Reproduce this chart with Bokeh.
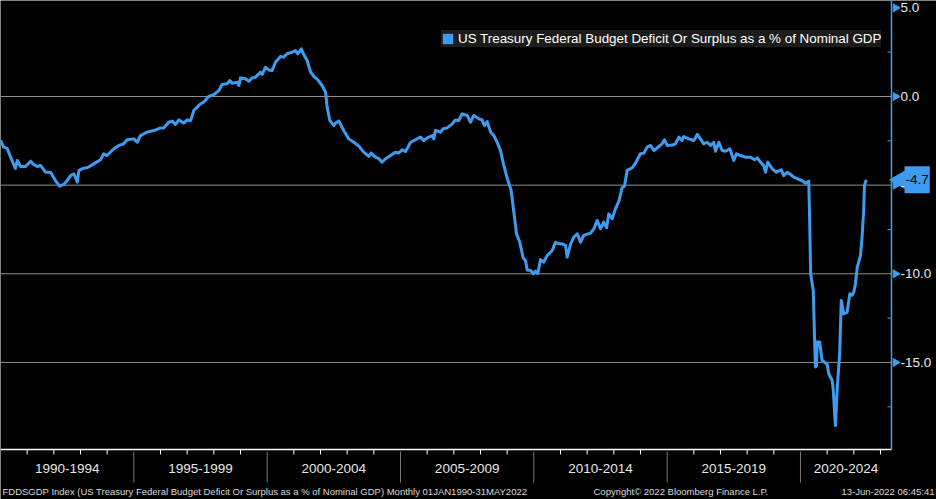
import math
from bokeh.plotting import figure
from bokeh.models import Label, Legend, LegendItem, Range1d
from bokeh.embed import file_html
from bokeh.resources import INLINE

# ---------------- data ----------------
years = [
    1990.00, 1990.12, 1990.25, 1990.38, 1990.56, 1990.63, 1990.75, 1990.94,
    1991.13, 1991.24, 1991.38, 1991.50, 1991.69, 1991.88, 1992.06, 1992.22,
    1992.37, 1992.50, 1992.63, 1992.75, 1992.81, 1992.88, 1992.94, 1993.12,
    1993.25, 1993.50, 1993.75, 1993.87, 1994.00, 1994.25, 1994.44, 1994.62,
    1994.75, 1995.00, 1995.13, 1995.25, 1995.50, 1995.75, 1996.00, 1996.12,
    1996.31, 1996.44, 1996.56, 1996.69, 1996.87, 1997.00, 1997.13, 1997.25,
    1997.38, 1997.50, 1997.62, 1997.81, 1998.00, 1998.19, 1998.31, 1998.50,
    1998.60, 1998.69, 1998.88, 1998.94, 1999.00, 1999.19, 1999.31, 1999.44,
    1999.56, 1999.75, 1999.81, 1999.94, 2000.06, 2000.19, 2000.31, 2000.50,
    2000.62, 2000.75, 2000.94, 2001.06, 2001.15, 2001.28, 2001.37, 2001.50,
    2001.63, 2001.75, 2001.90, 2002.06, 2002.19, 2002.25, 2002.35, 2002.50,
    2002.56, 2002.69, 2002.87, 2003.06, 2003.25, 2003.44, 2003.62, 2003.81,
    2003.90, 2004.06, 2004.19, 2004.31, 2004.44, 2004.63, 2004.81, 2004.94,
    2005.06, 2005.19, 2005.38, 2005.56, 2005.75, 2005.87, 2006.06, 2006.19,
    2006.25, 2006.31, 2006.50, 2006.60, 2006.75, 2006.94, 2007.06, 2007.19,
    2007.31, 2007.50, 2007.63, 2007.75, 2007.94, 2008.06, 2008.15, 2008.25,
    2008.38, 2008.50, 2008.63, 2008.75, 2008.87, 2009.00, 2009.15, 2009.25,
    2009.35, 2009.47, 2009.60, 2009.69, 2009.75, 2009.88, 2009.98, 2010.06,
    2010.15, 2010.25, 2010.37, 2010.50, 2010.69, 2010.81, 2010.94, 2011.06,
    2011.19, 2011.25, 2011.38, 2011.50, 2011.63, 2011.75, 2011.87, 2012.00,
    2012.13, 2012.25, 2012.38, 2012.50, 2012.62, 2012.73, 2012.81, 2012.94,
    2013.06, 2013.19, 2013.31, 2013.40, 2013.50, 2013.69, 2013.81, 2014.00,
    2014.12, 2014.25, 2014.38, 2014.50, 2014.69, 2014.81, 2014.90, 2015.00,
    2015.19, 2015.31, 2015.44, 2015.56, 2015.62, 2015.81, 2016.00, 2016.13,
    2016.25, 2016.37, 2016.50, 2016.63, 2016.75, 2016.81, 2016.94, 2017.06,
    2017.19, 2017.35, 2017.50, 2017.60, 2017.75, 2017.94, 2018.13, 2018.28,
    2018.38, 2018.50, 2018.62, 2018.69, 2018.77, 2018.94, 2019.10, 2019.28,
    2019.37, 2019.50, 2019.63, 2019.75, 2019.94, 2020.06, 2020.19, 2020.31,
    2020.35, 2020.38, 2020.48, 2020.53, 2020.56, 2020.60, 2020.63, 2020.72,
    2020.81, 2020.90, 2021.00, 2021.06, 2021.19, 2021.23, 2021.31, 2021.38,
    2021.47, 2021.53, 2021.62, 2021.75, 2021.85, 2021.94, 2022.00, 2022.06,
    2022.13, 2022.25, 2022.31, 2022.37, 2022.40, 2022.47,
]
values = [
    -2.48, -2.86, -2.93, -3.42, -4.06, -3.61, -3.95, -3.95,
    -3.65, -3.83, -3.95, -3.89, -4.27, -4.27, -4.74, -5.06,
    -4.96, -4.74, -4.46, -4.36, -4.55, -4.83, -4.17, -4.04,
    -4.02, -3.80, -3.57, -3.23, -3.33, -2.95, -2.76, -2.67,
    -2.44, -2.39, -2.58, -2.20, -2.01, -1.92, -1.77, -1.77,
    -1.45, -1.39, -1.58, -1.32, -1.50, -1.32, -1.35, -0.79,
    -0.60, -0.41, -0.32, 0.00, 0.11, 0.34, 0.68, 0.72,
    0.90, 0.75, 0.81, 0.62, 1.05, 1.00, 0.86, 1.05,
    1.09, 1.37, 1.24, 1.65, 1.50, 1.47, 1.93, 2.26,
    2.22, 2.41, 2.50, 2.59, 2.41, 2.69, 2.37, 2.03,
    1.37, 1.13, 0.94, 0.62, 0.24, -0.60, -1.35, -1.64,
    -1.50, -1.39, -1.92, -2.39, -2.58, -2.80, -3.14, -3.38,
    -3.19, -3.42, -3.51, -3.70, -3.51, -3.33, -3.14, -3.19,
    -3.00, -3.10, -2.58, -2.44, -2.29, -2.48, -2.29, -2.20,
    -2.39, -1.92, -2.01, -1.82, -1.77, -1.54, -1.32, -1.35,
    -0.98, -1.07, -1.45, -1.07, -1.26, -1.32, -1.64, -1.41,
    -2.01, -2.20, -2.60, -3.05, -3.85, -4.60, -5.30, -6.50,
    -7.74, -8.20, -9.10, -9.25, -9.78, -9.81, -10.00, -9.85,
    -9.98, -9.20, -9.34, -8.97, -8.69, -8.22, -8.31, -8.31,
    -8.40, -9.06, -8.31, -7.93, -7.74, -8.22, -7.84, -7.76,
    -7.71, -7.46, -6.99, -7.46, -7.08, -7.40, -6.62, -6.90,
    -6.34, -5.90, -5.15, -5.05, -4.17, -4.02, -3.76, -3.23,
    -3.20, -2.86, -2.76, -3.05, -2.82, -2.67, -2.44, -2.76,
    -2.74, -2.67, -2.29, -2.48, -2.26, -2.39, -2.48, -2.14,
    -2.39, -2.67, -2.58, -2.76, -2.58, -3.09, -2.58, -3.05,
    -3.09, -2.95, -3.61, -3.23, -3.33, -3.42, -3.42, -3.57,
    -3.46, -3.70, -3.89, -4.27, -3.70, -4.08, -4.27, -4.13,
    -4.46, -4.27, -4.40, -4.55, -4.68, -4.74, -4.90, -4.77,
    -7.40, -10.00, -10.94, -13.76, -15.26, -15.20, -13.85, -13.85,
    -14.89, -14.98, -15.10, -15.64, -16.02, -16.58, -18.56, -16.40,
    -14.50, -11.50, -12.26, -12.16, -11.13, -11.20, -11.03, -10.56,
    -9.62, -8.97, -7.93, -6.43, -5.00, -4.70,
]
period_starts = [1990, 1995, 2000, 2005, 2010, 2015, 2020]
period_labels = ["1990-1994", "1995-1999", "2000-2004", "2005-2009",
                 "2010-2014", "2015-2019", "2020-2024"]
year_ticks = [y for y in range(1991, 2024) if y % 5]
y_ticks = [5.0, 0.0, -5.0, -10.0, -15.0]
y_minor = [2.5, -2.5, -7.5, -12.5, -17.5]
grid_ticks = [0.0, -5.0, -10.0, -15.0]
series_name = "US Treasury Federal Budget Deficit Or Surplus as a % of Nominal GDP"
footer_left = ("FDDSGDP Index (US Treasury Federal Budget Deficit Or Surplus as a % of "
               "Nominal GDP)  Monthly 01JAN1990-31MAY2022")
footer_mid = "Copyright\u00a9 2022 Bloomberg Finance L.P."
footer_right = "13-Jun-2022 06:45:41"

# ---------------- layout / styling ----------------
BLUE = "#3d9cf0"
FONT = "Liberation Sans"
W, H = 936, 499
PXX = 5 / 133.33          # years per pixel
PXY = 5 / 88.65           # value units per pixel
X0, X1 = 1990.0, 1990.0 + W * PXX
Y1 = 96 * PXY
Y0 = Y1 - H * PXY
AXIS_X = X0 + 891 * PXX    # right value axis position
AXIS_Y = Y1 - 449 * PXY    # bottom time axis position

p = figure(width=W, height=H, output_backend="svg", toolbar_location=None,
           x_range=Range1d(X0, X1), y_range=Range1d(Y0, Y1),
           x_axis_location=None, y_axis_location=None,
           min_border=0, background_fill_color="black",
           border_fill_color="black", outline_line_color=None)
p.grid.visible = False

# horizontal grid lines up to the value axis
p.segment(x0=[X0] * len(grid_ticks), x1=[AXIS_X] * len(grid_ticks),
          y0=grid_ticks, y1=grid_ticks, line_color="#8f8f8f", line_width=1)

# series
p.line(years, values, line_color=BLUE, line_width=3, line_join="round")

# bottom time axis
p.segment(x0=[X0], x1=[AXIS_X], y0=[AXIS_Y], y1=[AXIS_Y],
          line_color="white", line_width=1.5)
p.segment(x0=year_ticks, x1=year_ticks, y0=[AXIS_Y] * len(year_ticks),
          y1=[AXIS_Y - 5 * PXY] * len(year_ticks), line_color="white", line_width=1)
seps = period_starts[1:]
p.segment(x0=seps, x1=seps, y0=[AXIS_Y - 2 * PXY] * len(seps),
          y1=[AXIS_Y - 33 * PXY] * len(seps), line_color="#7a7a7a", line_width=1)
for s, lab in zip(period_starts, period_labels):
    mid = (s + min(s + 5, AXIS_X)) / 2
    p.add_layout(Label(x=mid, y=H - 468, x_units="data", y_units="screen",
                       text=lab, text_align="center", text_baseline="middle",
                       text_color="#e6e6e6", text_font=FONT, text_font_size="13.5px"))

# right value axis
p.segment(x0=[AXIS_X], x1=[AXIS_X], y0=[AXIS_Y], y1=[Y1],
          line_color=BLUE, line_width=1.5)
p.scatter(x=[AXIS_X + 4 * PXX] * len(y_ticks), y=y_ticks, marker="triangle",
          size=8, angle=-math.pi / 2, fill_color=BLUE, line_color=BLUE)
p.segment(x0=[AXIS_X - 4 * PXX] * len(y_minor), x1=[AXIS_X] * len(y_minor),
          y0=y_minor, y1=y_minor, line_color=BLUE, line_width=1)
for v in y_ticks:
    p.add_layout(Label(x=900, y=v, x_units="screen", y_units="data",
                       text=f"{v:.1f}", text_align="left", text_baseline="middle",
                       text_color="#e8e8e8", text_font=FONT, text_font_size="13.5px"))

# legend with a square swatch
sq = p.quad(left=years[-1:], right=years[-1:], top=values[-1:], bottom=values[-1:],
            fill_color=BLUE, line_color=None)
legend = Legend(items=[LegendItem(label=series_name, renderers=[sq])],
                location=(441, H - 47), background_fill_color="#1c1c1c",
                background_fill_alpha=1.0, border_line_color=None,
                label_text_color="white", label_text_font=FONT,
                label_text_font_size="13.4px", glyph_width=13, glyph_height=13,
                label_standoff=4, padding=6, margin=0, label_height=17,
                spacing=0)
p.add_layout(legend)

# last value tag
last = values[-1]
p.scatter(x=[AXIS_X + 8 * PXX], y=[last], marker="triangle", size=17,
          angle=math.pi / 2, fill_color=BLUE, line_color=BLUE)
p.add_layout(Label(x=904, y=last, x_units="screen", y_units="data",
                   text=f"{last:.1f}", text_color="black", text_font=FONT,
                   text_font_size="13.5px", text_baseline="middle", text_align="left",
                   background_fill_color=BLUE, padding=(1, 9)))

# footer
for txt, x, align in [(footer_left, 2, "left"), (footer_mid, 593, "left"),
                      (footer_right, 934, "right")]:
    p.add_layout(Label(x=x, y=H - 491, x_units="screen", y_units="screen", text=txt,
                       text_align=align, text_baseline="middle",
                       text_color="#d8d8d8", text_font=FONT,
                       text_font_size="9.5px"))

open("out.html", "w").write(file_html(p, INLINE))
